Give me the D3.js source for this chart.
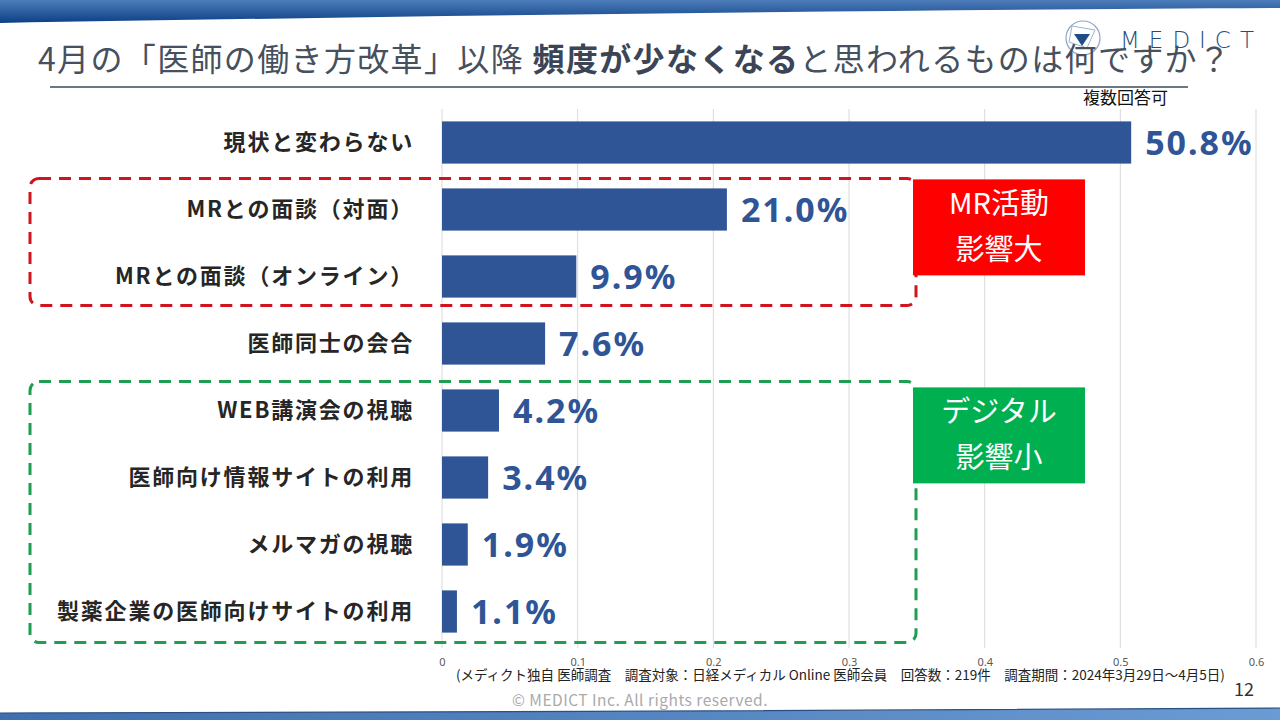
<!DOCTYPE html>
<html><head><meta charset="utf-8">
<script src="https://cdn.jsdelivr.net/npm/d3@7"></script>
<style>
html,body{margin:0;padding:0;background:#fff;}
svg{display:block;font-family:"Noto Sans CJK JP","Noto Sans",sans-serif;}
</style></head>
<body>
<svg id="c" width="1280" height="720"></svg>
<script>
const categories = ["現状と変わらない","MRとの面談（対面）","MRとの面談（オンライン）","医師同士の会合","WEB講演会の視聴","医師向け情報サイトの利用","メルマガの視聴","製薬企業の医師向けサイトの利用"];
const values = [0.508,0.210,0.099,0.076,0.042,0.034,0.019,0.011];
const valueLabels = ["50.8%","21.0%","9.9%","7.6%","4.2%","3.4%","1.9%","1.1%"];
const tickValues = [0,0.1,0.2,0.3,0.4,0.5,0.6];
const tickLabels = ["0","0.1","0.2","0.3","0.4","0.5","0.6"];
const groupNames = ["MR","digital"];
const groupMembers = [["MRとの面談（対面）","MRとの面談（オンライン）"],["WEB講演会の視聴","医師向け情報サイトの利用","メルマガの視聴","製薬企業の医師向けサイトの利用"]];
const groupLabels = [["MR活動","影響大"],["デジタル","影響小"]];

const groupStyle = [
  {color:"#D0141E", fill:"#FF0000", padTop:10, padBot:8, boxOff:-9},
  {color:"#1E9E50", fill:"#00B050", padTop:8, padBot:10, boxOff:-2}
];

const svg = d3.select("#c");
const defs = svg.append("defs");
const g1 = defs.append("linearGradient").attr("id","topg").attr("x1",0).attr("y1",0).attr("x2",0).attr("y2",1);
g1.append("stop").attr("offset","0%").attr("stop-color","#4D7DBA");
g1.append("stop").attr("offset","100%").attr("stop-color","#0D3F86");
const g2 = defs.append("linearGradient").attr("id","botg").attr("x1",0).attr("y1",0).attr("x2",1).attr("y2",0);
g2.append("stop").attr("offset","0%").attr("stop-color","#3F6FAE");
g2.append("stop").attr("offset","100%").attr("stop-color","#6A9BD3");

// top banner
svg.append("path").attr("d","M0,0 L1280,0 L1280,8 C900,10 400,16 0,23 Z").attr("fill","url(#topg)");
// bottom banner
svg.append("path").attr("d","M0,713 C400,712 900,711 1280,708 L1280,720 L0,720 Z").attr("fill","url(#botg)");
svg.append("path").attr("d","M0,713 C400,712 900,711 1280,708").attr("fill","none").attr("stroke","#2B4F80").attr("stroke-width",1.2);

// logo (behind title)
const logo = svg.append("g").attr("transform","translate(1083,38)");
logo.append("circle").attr("r",17).attr("fill","none").attr("stroke","#8FA5C2").attr("stroke-width",1.2);
logo.append("path").attr("d","M-11,-12 L12,-8 L4,10 L-14,4 Z").attr("fill","none").attr("stroke","#9FB3CD").attr("stroke-width",1);
logo.append("path").attr("d","M-9,-4 L7,-4 L-1,8 Z").attr("fill","#1D4F86");
svg.append("text").attr("x",1120).attr("y",48).attr("font-size",23).attr("font-family","'DejaVu Sans',sans-serif").attr("font-weight",300).attr("letter-spacing",9).attr("fill","#1F4E79").text("MEDICT");

// title
const title = svg.append("text").attr("x",38).attr("y",71).attr("font-size",32).attr("letter-spacing",1.35).attr("fill","#46505E");
title.append("tspan").text("4月の「医師の働き方改革」以降 ");
title.append("tspan").attr("font-weight","bold").attr("fill","#3B4555").text("頻度が少なくなる");
title.append("tspan").text("と思われるものは何ですか？");
svg.append("line").attr("x1",50).attr("x2",1188).attr("y1",87).attr("y2",87).attr("stroke","#3E4A5C").attr("stroke-width",1.3);
svg.append("text").attr("x",1168).attr("y",104).attr("text-anchor","end").attr("font-size",17).attr("fill","#111").text("複数回答可");

// chart
const x = d3.scaleLinear().domain([0,0.6]).range([442,1256]);
const y = d3.scaleBand().domain(categories).range([109,645]).paddingInner(0.37).paddingOuter(0.185);

svg.append("g").selectAll("line").data(tickValues).join("line")
  .attr("x1",d=>x(d)).attr("x2",d=>x(d)).attr("y1",109).attr("y2",648)
  .attr("stroke","#D9D9D9").attr("stroke-width",1);

const axis = d3.axisBottom(x).tickValues(tickValues).tickFormat((d,i)=>tickLabels[i]).tickSize(0).tickPadding(10);
const ax = svg.append("g").attr("transform","translate(0,648)").call(axis);
ax.select(".domain").remove();
ax.selectAll("text").attr("font-size",11).attr("fill","#595959").attr("font-family","'Noto Sans',sans-serif");

svg.append("g").selectAll("rect").data(values).join("rect")
  .attr("x",x(0)).attr("y",(d,i)=>y(categories[i])).attr("width",d=>x(d)-x(0)).attr("height",y.bandwidth())
  .attr("fill","#2F5597");

svg.append("g").selectAll("text").data(values).join("text")
  .attr("x",d=>x(d)+14).attr("y",(d,i)=>y(categories[i])+y.bandwidth()/2).attr("dy","0.36em")
  .attr("font-size",34).attr("font-weight","bold").attr("letter-spacing",2).attr("fill","#2F5597")
  .attr("font-family","'Noto Sans',sans-serif")
  .text((d,i)=>valueLabels[i]);

svg.append("g").selectAll("text").data(categories).join("text")
  .attr("x",414).attr("y",d=>y(d)+y.bandwidth()/2).attr("dy","0.35em").attr("text-anchor","end")
  .attr("font-size",22).attr("font-weight","bold").attr("letter-spacing",1.8).attr("fill","#262626")
  .text(d=>d);

// group boxes
groupNames.forEach((name,gi)=>{
  const st = groupStyle[gi];
  const mem = groupMembers[gi];
  const top = y(mem[0]) - st.padTop;
  const bot = y(mem[mem.length-1]) + y.bandwidth() + st.padBot;
  svg.append("rect").attr("x",30).attr("y",top).attr("width",886).attr("height",bot-top)
    .attr("rx",9).attr("fill","none").attr("stroke",st.color).attr("stroke-width",3)
    .attr("stroke-dasharray","12,8");
  const by = y(mem[0]) + st.boxOff;
  svg.append("rect").attr("x",913).attr("y",by).attr("width",172).attr("height",96).attr("fill",st.fill);
  groupLabels[gi].forEach((t,i)=>{
    svg.append("text").attr("x",999).attr("y",by+24+i*46).attr("text-anchor","middle").attr("dy","0.35em")
      .attr("font-size",29).attr("fill","#fff").text(t);
  });
});

// footnotes
svg.append("text").attr("x",456).attr("y",680).attr("font-size",13.5).attr("fill","#222")
  .text("(メディクト独自 医師調査　調査対象：日経メディカル Online 医師会員　回答数：219件　調査期間：2024年3月29日～4月5日)");
svg.append("text").attr("x",1254).attr("y",696).attr("text-anchor","end").attr("font-size",18).attr("fill","#333").text("12");
svg.append("text").attr("x",640).attr("y",706).attr("text-anchor","middle").attr("font-size",15.5).attr("fill","#AAAAAA").attr("letter-spacing",0.5).text("© MEDICT Inc.  All rights reserved.");
</script>
</body></html>
